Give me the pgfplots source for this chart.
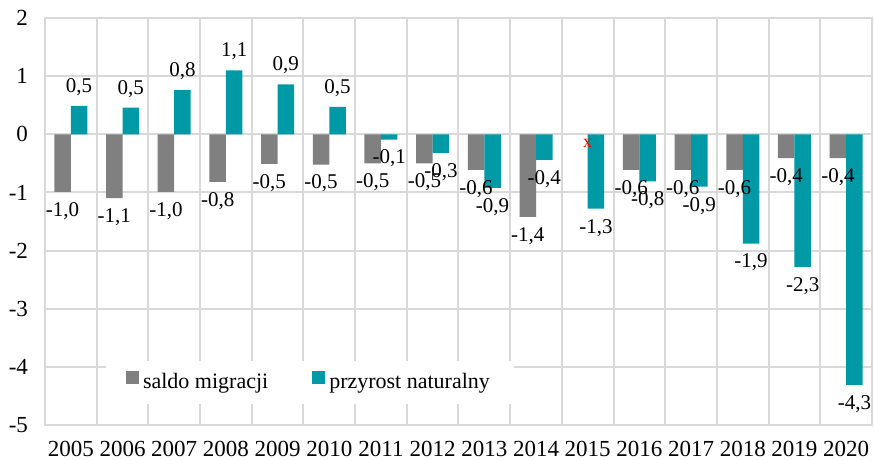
\documentclass[border=0pt]{standalone}
\usepackage{fontspec}
\setmainfont{Liberation Serif}
\usepackage{pgfplots}
\pgfplotsset{compat=1.18}
\definecolor{gridgray}{HTML}{D9D9D9}
\definecolor{barGray}{HTML}{808080}
\definecolor{barTeal}{HTML}{0099A6}
\begin{document}
\begin{tikzpicture}
\begin{axis}[
  scale only axis, width=413.5pt, height=203.5pt,
  xmin=-0.5, xmax=15.5, ymin=-5, ymax=2,
  xtick={0,...,15},
  xticklabels={2005,2006,2007,2008,2009,2010,2011,2012,2013,2014,2015,2016,2017,2018,2019,2020},
  minor xtick={-0.5,0.5,...,15.5},
  ytick={-5,-4,...,2},
  ymajorgrids, xminorgrids,
  major tick length=0pt, minor tick length=0pt,
  axis line style={gridgray, line width=1pt},
  grid style={gridgray, line width=1pt},
  minor grid style={gridgray, line width=1pt},
  ybar=0pt, bar width=8.25pt,
  /pgf/number format/assume math mode=true,
  ticklabel style={font=\fontsize{11.5}{13}\selectfont},
  yticklabel style={xshift=-5pt},
  xticklabel style={yshift=-4.5pt},
  nodes near coords, nodes near coords align=vertical,
  every node near coord/.append style={font=\fontsize{10.5}{12}\selectfont, text=black,
    inner ysep=4.5pt, text height=7.5pt, text depth=2pt,
    /pgf/number format/.cd, fixed, zerofill, precision=1, use comma, assume math mode=true},
  legend columns=2,
  legend style={at={(0.3204,0.1044)}, anchor=center, draw=none, fill=white,
    inner xsep=10pt, inner ysep=4pt, font=\fontsize{11}{13}\selectfont,
    /tikz/every even column/.append style={column sep=20pt}},
]
\addplot[fill=barGray, draw=none, bar shift=-4.125pt,
  legend image code/.code={\fill[barGray] (0pt,-0.5pt) rectangle (6.5pt,6pt);}]
  coordinates {(0,-0.99) (1,-1.1) (2,-0.99) (3,-0.82) (4,-0.51) (5,-0.52) (6,-0.5) (7,-0.5)
    (8,-0.61) (9,-1.42) (11,-0.61) (12,-0.61) (13,-0.61) (14,-0.41) (15,-0.41)};
\addlegendentry{saldo migracji}
\addplot[fill=barTeal, draw=none, bar shift=4.125pt,
  legend image code/.code={\fill[barTeal] (0pt,-0.5pt) rectangle (6.5pt,6pt);}]
  coordinates {(0,0.49) (1,0.46) (2,0.76) (3,1.1) (4,0.86) (5,0.47) (6,-0.09) (7,-0.32)
    (8,-0.92) (9,-0.44) (10,-1.28) (11,-0.81) (12,-0.9) (13,-1.88) (14,-2.28) (15,-4.31)};
\addlegendentry{przyrost naturalny}
\addplot[draw=none, fill=none, bar shift=-4.125pt, forget plot,
  nodes near coords={x},
  every node near coord/.style={text=red, anchor=center, yshift=-4.5pt, font=\fontsize{9}{10}\selectfont}]
  coordinates {(10,0)};
\end{axis}
\pgfresetboundingbox
\path ([xshift=-22.5pt,yshift=-17.5pt]current axis.south west) rectangle ([xshift=1pt,yshift=9pt]current axis.north east);
\end{tikzpicture}
\end{document}
